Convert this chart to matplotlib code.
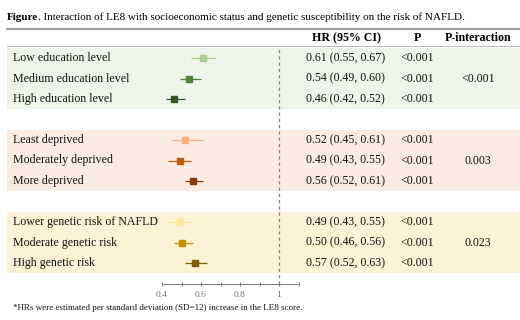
import matplotlib
matplotlib.use("Agg")
import matplotlib.pyplot as plt
import matplotlib.transforms as mtrans
import numpy as np

# ---- data ----
labels = ["Low education level", "Medium education level", "High education level",
          "Least deprived", "Moderately deprived", "More deprived",
          "Lower genetic risk of NAFLD", "Moderate genetic risk", "High genetic risk"]
hr = [0.61, 0.54, 0.46, 0.52, 0.49, 0.56, 0.49, 0.50, 0.57]
lo = [0.55, 0.49, 0.42, 0.45, 0.43, 0.52, 0.43, 0.46, 0.52]
hi = [0.67, 0.60, 0.52, 0.61, 0.55, 0.61, 0.55, 0.56, 0.63]
pvals = ["<0.001"] * 9
p_interaction = ["<0.001", "0.003", "0.023"]
xticks = [0.4, 0.6, 0.8, 1.0]
xtick_labels = ["0.4", "0.6", "0.8", "1"]

marker_colors = ["#a9d18e", "#548235", "#375623",
                 "#f4b183", "#c55a11", "#843c0c",
                 "#ffe699", "#bf9000", "#7f6000"]
band_colors = ["#eef5e8", "#fcebe0", "#fef2d6"]

W, H = 520, 320
fig = plt.figure(figsize=(W / 100, H / 100), dpi=100)
plt.rcParams["font.family"] = ["Liberation Serif", "DejaVu Serif"]

# pixel helpers
def fx(px):
    return px / W

def fy(py):
    return 1 - py / H

# row positions
rows = [0, 1, 2, 4, 5, 6, 8, 9, 10]
row0_px, row_step = 58.0, 20.5
ytop, ybot = -0.6, 11.0
ax_top_px = row0_px + ytop * row_step
ax_bot_px = row0_px + ybot * row_step
ax_left_px, ax_right_px = 7, 520
# x mapping: 0.4 -> 162 px, 1.0 -> 279 px
px_per_unit = (279 - 162) / 0.6
xmin = 0.4 - (162 - ax_left_px) / px_per_unit
xmax = 0.4 + (ax_right_px - 162) / px_per_unit

ax = fig.add_axes([fx(ax_left_px), fy(ax_bot_px),
                   (ax_right_px - ax_left_px) / W, (ax_bot_px - ax_top_px) / H])
ax.set_xlim(xmin, xmax)
ax.set_ylim(ybot, ytop)
ax.patch.set_alpha(0)

# bands
for g in range(3):
    ax.axhspan(rows[3 * g] - 0.5, rows[3 * g + 2] + 0.5, color=band_colors[g], zorder=0, lw=0)

# reference line
ax.axvline(1.0, color="#808080", lw=0.9, ls=(0, (2.5, 2.5)), zorder=1)

# forest points
for i in range(9):
    ax.errorbar(hr[i], rows[i], xerr=[[hr[i] - lo[i]], [hi[i] - hr[i]]], fmt="s",
                color=marker_colors[i], ecolor=marker_colors[i], elinewidth=0.9,
                markersize=4.0, capsize=0, zorder=3)

# axis styling
for s in ["top", "right", "left"]:
    ax.spines[s].set_visible(False)
ax.spines["bottom"].set_bounds(0.4, 1.1)
ax.spines["bottom"].set_color("#808080")
ax.spines["bottom"].set_linewidth(0.8)
ax.set_yticks([])
ax.set_xticks(xticks)
ax.set_xticklabels(xtick_labels)
ax.set_xticks([0.5, 0.7, 0.9, 1.1], minor=True)
ax.tick_params(axis="x", which="both", direction="inout", length=3, width=0.7,
               color="#808080", labelsize=6.8, labelcolor="#707070", pad=4)

# text columns
tr = mtrans.blended_transform_factory(fig.transFigure, ax.transData)
fs = 8.6
for i in range(9):
    ax.text(fx(13), rows[i], labels[i], transform=tr, ha="left", va="center", fontsize=fs, color="#111111")
    hr_txt = f"{hr[i]:.2f} ({lo[i]:.2f}, {hi[i]:.2f})"
    ax.text(fx(306), rows[i], hr_txt, transform=tr, ha="left", va="center", fontsize=fs, color="#111111")
    ax.text(fx(417), rows[i], pvals[i], transform=tr, ha="center", va="center", fontsize=fs, color="#111111")
for g in range(3):
    ax.text(fx(478), rows[3 * g + 1], p_interaction[g], transform=tr, ha="center", va="center",
            fontsize=fs, color="#111111")

# headers
hy = fy(38)
fig.text(fx(347), hy, "HR (95% CI)", ha="center", va="center", fontsize=fs, fontweight="bold")
fig.text(fx(417), hy, "P", ha="center", va="center", fontsize=fs, fontweight="bold")
fig.text(fx(478), hy, "P-interaction", ha="center", va="center", fontsize=fs, fontweight="bold")

# title
t1 = fig.text(fx(7), fy(17), "Figure", ha="left", va="center", fontsize=8, fontweight="bold")
fig.canvas.draw()
bb = t1.get_window_extent()
fig.text(bb.x1 / W, fy(17), ". Interaction of LE8 with socioeconomic status and genetic susceptibility on the risk of NAFLD.",
         ha="left", va="center", fontsize=8)

# lines
fig.add_artist(plt.Line2D([fx(7), fx(520)], [fy(29), fy(29)], color="#a0a0a0", lw=1.6))
fig.add_artist(plt.Line2D([fx(7), fx(520)], [fy(46), fy(46)], color="#b0b0b0", lw=0.6))

# footnote
fig.text(fx(13), fy(308), "*HRs were estimated per standard deviation (SD=12) increase in the LE8 score.",
         ha="left", va="center", fontsize=6.45, color="#111111")

fig.savefig("out.png", dpi=100)
